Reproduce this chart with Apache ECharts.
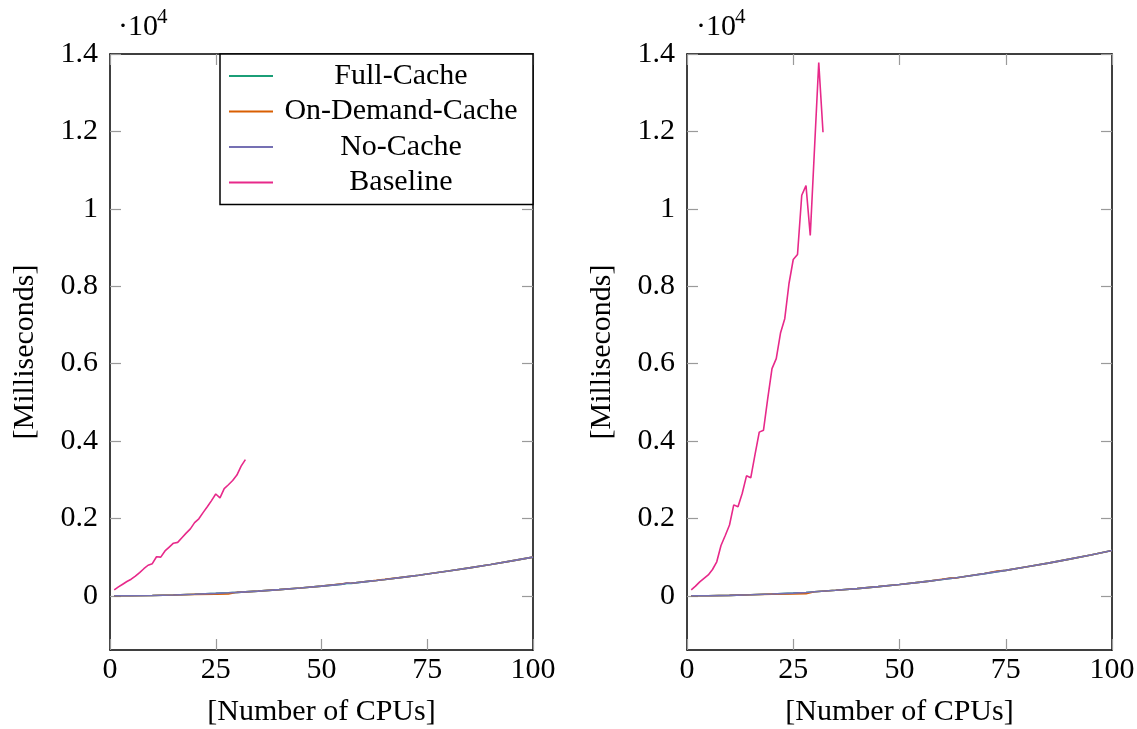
<!DOCTYPE html>
<html>
<head>
<meta charset="utf-8">
<script src="https://cdn.jsdelivr.net/npm/echarts@6/dist/echarts.min.js"></script>
<style>
  html, body { margin: 0; padding: 0; background: #fff; }
  #chart { width: 1137px; height: 729px; }
</style>
</head>
<body>
<div id="chart"></div>
<script>
// CPU counts for the baseline runs
const cpuBaseline = [1, 2, 3, 4, 5, 6, 7, 8, 9, 10, 11, 12, 13, 14, 15, 16,
  17, 18, 19, 20, 21, 22, 23, 24, 25, 26, 27, 28, 29, 30, 31, 32]
const baselineLeft = [155, 230, 300, 370, 430, 510, 600, 700, 790, 830, 1010, 1000, 1160, 1260, 1360, 1380,
  1500, 1620, 1730, 1890, 1990, 2150, 2300, 2460, 2630, 2530, 2770, 2870, 2980, 3120, 3350, 3520]
const baselineRight = [155, 250, 360, 450, 540, 680, 880, 1300, 1560, 1830, 2350, 2300, 2650, 3100, 3050, 3650,
  4230, 4280, 5100, 5870, 6130, 6790, 7160, 8070, 8690, 8820, 10350, 10600, 9310, 11550, 13780, 11980]

// CPU counts for the cache runs
const cpuCache = [1, 5, 10, 15, 20, 25, 28, 30, 35, 40, 45, 50, 55, 56, 57, 60, 62, 63, 65, 70, 73, 75, 80, 85, 90, 95, 100]
const fullCacheLeft = [0, 3, 10, 22, 40, 62, 78, 90, 122, 160, 202, 250, 302, 318, 322, 360, 385, 397, 422, 490, 532, 562, 640, 722, 810, 902, 1000]
const onDemandLeft = [0, 3, 10, 22, 38, 45, 48, 90, 122, 160, 202, 250, 310, 330, 325, 362, 387, 399, 424, 490, 532, 562, 640, 722, 810, 902, 1000]
const noCacheLeft = [0, 3, 10, 22, 40, 62, 78, 90, 122, 160, 202, 250, 302, 330, 325, 360, 385, 397, 422, 490, 532, 562, 640, 722, 810, 902, 1000]
const fullCacheRight = [0, 3, 12, 26, 47, 70, 85, 105, 143, 187, 237, 292, 354, 367, 380, 421, 450, 462, 494, 573, 625, 658, 749, 845, 948, 1056, 1170]
const onDemandRight = [0, 3, 12, 26, 45, 50, 55, 105, 143, 187, 237, 292, 354, 367, 380, 430, 462, 456, 494, 575, 640, 658, 749, 845, 948, 1056, 1170]
const noCacheRight = [0, 3, 12, 26, 47, 70, 85, 105, 143, 187, 237, 292, 354, 367, 380, 421, 450, 462, 494, 573, 625, 658, 749, 845, 948, 1056, 1170]

const yTicks = [0, 2000, 4000, 6000, 8000, 10000, 12000, 14000]
const seriesNames = ['Full-Cache', 'On-Demand-Cache', 'No-Cache', 'Baseline']
const colors = ['#1b9e77', '#d95f02', '#7570b3', '#e7298a']

const font = 'Liberation Serif'
const fontSize = 30
const tickColor = '#9a9a9a'

const pairs = (xs, ys) => xs.map((x, i) => [x, ys[i]])

function xAxes(gridIndex) {
  const common = {
    gridIndex,
    type: 'value',
    min: 0,
    max: 100,
    interval: 25,
    splitLine: { show: false },
    axisLine: { show: true, onZero: false, lineStyle: { color: '#000', width: 1.5 } },
    axisTick: { show: true, inside: true, length: 11, lineStyle: { color: tickColor, width: 1.2 } }
  }
  return [
    Object.assign({}, common, {
      position: 'bottom',
      name: '[Number of CPUs]',
      nameLocation: 'middle',
      nameGap: 47,
      nameMoveOverlap: false,
      nameTextStyle: { fontFamily: font, fontSize: fontSize, color: '#000', verticalAlign: 'top' },
      axisLabel: { fontFamily: font, fontSize: fontSize, color: '#000', margin: 5 }
    }),
    Object.assign({}, common, { position: 'top', axisLabel: { show: false } })
  ]
}

function yAxes(gridIndex) {
  const common = {
    gridIndex,
    type: 'value',
    min: -1400,
    max: 14000,
    splitLine: { show: false },
    axisLine: { show: true, onZero: false, lineStyle: { color: '#000', width: 1.5 } },
    axisTick: { show: true, inside: true, length: 11, customValues: yTicks, lineStyle: { color: tickColor, width: 1.2 } }
  }
  return [
    Object.assign({}, common, {
      position: 'left',
      name: '[Milliseconds]',
      nameLocation: 'middle',
      nameGap: 70,
      nameMoveOverlap: false,
      nameTextStyle: { fontFamily: font, fontSize: fontSize, color: '#000' },
      axisLabel: {
        fontFamily: font, fontSize: fontSize, color: '#000', margin: 12,
        customValues: yTicks,
        formatter: v => String(Math.round(v / 1000) / 10)
      }
    }),
    Object.assign({}, common, { position: 'right', axisLabel: { show: false } })
  ]
}

function lineSeries(name, color, axisIndex, data, z) {
  return {
    name,
    type: 'line',
    xAxisIndex: axisIndex,
    yAxisIndex: axisIndex,
    data,
    symbol: 'none',
    z,
    lineStyle: { color, width: 1.6 },
    itemStyle: { color },
    animation: false
  }
}

const chart = echarts.init(document.getElementById('chart'))
chart.setOption({
  animation: false,
  grid: [
    { left: 110, top: 54, width: 423, height: 596, outerBoundsMode: 'none', containLabel: false },
    { left: 687, top: 54, width: 425, height: 596, outerBoundsMode: 'none', containLabel: false }
  ],
  xAxis: [...xAxes(0), ...xAxes(1)],
  yAxis: [...yAxes(0), ...yAxes(1)],
  legend: {
    data: seriesNames,
    orient: 'vertical',
    left: 220,
    top: 54,
    padding: [7, 9, 7, 9],
    itemWidth: 44,
    itemHeight: 2,
    itemGap: 5.5,
    icon: 'rect',
    backgroundColor: '#fff',
    borderColor: '#000',
    borderWidth: 1.5,
    formatter: name => '{t|' + name + '}',
    textStyle: {
      rich: {
        t: { width: 246, align: 'center', fontFamily: font, fontSize: fontSize, lineHeight: 30, color: '#000' }
      }
    }
  },
  graphic: [
    { type: 'text', left: 118, top: 12, style: { text: '·10', font: fontSize + 'px "' + font + '"', fill: '#000' } },
    { type: 'text', left: 157, top: 7, style: { text: '4', font: '21px "' + font + '"', fill: '#000' } },
    { type: 'text', left: 696, top: 12, style: { text: '·10', font: fontSize + 'px "' + font + '"', fill: '#000' } },
    { type: 'text', left: 735, top: 7, style: { text: '4', font: '21px "' + font + '"', fill: '#000' } }
  ],
  series: [
    lineSeries(seriesNames[0], colors[0], 0, pairs(cpuCache, fullCacheLeft), 2),
    lineSeries(seriesNames[1], colors[1], 0, pairs(cpuCache, onDemandLeft), 3),
    lineSeries(seriesNames[2], colors[2], 0, pairs(cpuCache, noCacheLeft), 4),
    lineSeries(seriesNames[3], colors[3], 0, pairs(cpuBaseline, baselineLeft), 5),
    lineSeries(seriesNames[0], colors[0], 2, pairs(cpuCache, fullCacheRight), 2),
    lineSeries(seriesNames[1], colors[1], 2, pairs(cpuCache, onDemandRight), 3),
    lineSeries(seriesNames[2], colors[2], 2, pairs(cpuCache, noCacheRight), 4),
    lineSeries(seriesNames[3], colors[3], 2, pairs(cpuBaseline, baselineRight), 5)
  ]
})
</script>
</body>
</html>
